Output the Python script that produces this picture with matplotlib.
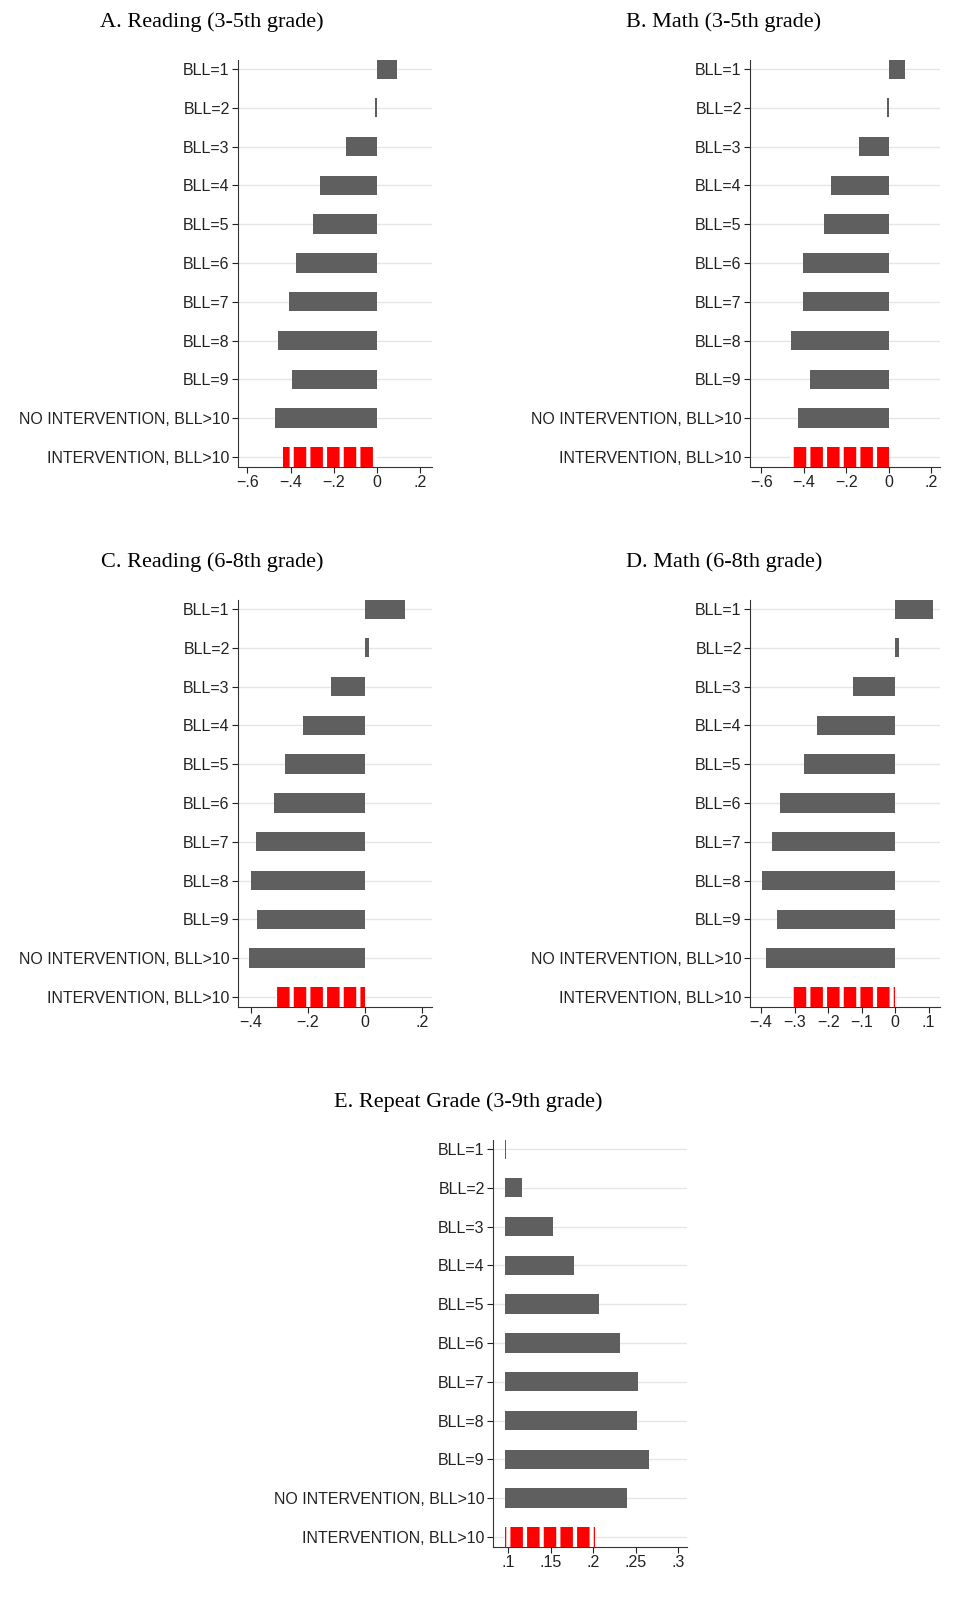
import matplotlib
matplotlib.use("Agg")
import matplotlib.pyplot as plt

plt.rcParams["hatch.linewidth"] = 3.0
plt.rcParams["font.family"] = ["Liberation Sans", "DejaVu Sans"]

labels = ["BLL=1", "BLL=2", "BLL=3", "BLL=4", "BLL=5", "BLL=6", "BLL=7", "BLL=8", "BLL=9",
          "NO INTERVENTION, BLL>10", "INTERVENTION, BLL>10"]

reading_35 = [0.093, -0.010, -0.143, -0.264, -0.296, -0.375, -0.407, -0.458, -0.394, -0.472, -0.435]
math_35 = [0.075, -0.010, -0.141, -0.272, -0.305, -0.404, -0.404, -0.460, -0.371, -0.427, -0.465]
reading_68 = [0.140, 0.014, -0.119, -0.217, -0.280, -0.318, -0.381, -0.399, -0.378, -0.406, -0.311]
math_68 = [0.113, 0.012, -0.125, -0.233, -0.272, -0.343, -0.367, -0.397, -0.352, -0.385, -0.307]
repeat_39 = [0.0975, 0.1165, 0.152, 0.177, 0.207, 0.231, 0.252, 0.251, 0.265, 0.240, 0.202]
repeat_base = 0.096

panels = [
    ("A. Reading (3-5th grade)", reading_35, 0.0, (-0.644, 0.255), [-0.6, -0.4, -0.2, 0, 0.2], ["−.6", "−.4", "−.2", "0", ".2"]),
    ("B. Math (3-5th grade)", math_35, 0.0, (-0.653, 0.24), [-0.6, -0.4, -0.2, 0, 0.2], ["−.6", "−.4", "−.2", "0", ".2"]),
    ("C. Reading (6-8th grade)", reading_68, 0.0, (-0.444, 0.234), [-0.4, -0.2, 0, 0.2], ["−.4", "−.2", "0", ".2"]),
    ("D. Math (6-8th grade)", math_68, 0.0, (-0.433, 0.134), [-0.4, -0.3, -0.2, -0.1, 0, 0.1], ["−.4", "−.3", "−.2", "−.1", "0", ".1"]),
    ("E. Repeat Grade (3-9th grade)", repeat_39, repeat_base, (0.082, 0.31), [0.1, 0.15, 0.2, 0.25, 0.3], [".1", ".15", ".2", ".25", ".3"]),
]

W, H = 958, 1598
# axes pixel boxes: left, right, top, bottom
boxes = [(238, 432, 60, 467), (750, 940, 60, 467), (238, 432, 600, 1007),
         (750, 940, 600, 1007), (493, 687, 1140, 1547)]
title_xy = [(212, 22), (724, 22), (212, 562), (724, 562), (468, 1102)]

fig = plt.figure(figsize=(W / 100, H / 100), dpi=100)
for (title, vals, base, xlim, ticks, ticklabels), (l, r, t, b), (tx, ty) in zip(panels, boxes, title_xy):
    ax = fig.add_axes([l / W, 1 - b / H, (r - l) / W, (b - t) / H])
    ypos = list(range(len(labels)))
    widths = [v - base for v in vals]
    ax.barh(ypos[:-1], widths[:-1], left=base, height=0.5, color="#5f5f5f", zorder=3)
    ax.barh(ypos[-1:], widths[-1:], left=base, height=0.5, color="#ff0000",
            edgecolor="white", hatch="|", linewidth=0, zorder=3)
    ax.set_yticks(ypos)
    ax.set_yticklabels(labels, fontsize=11.5)
    ax.set_ylim(10.26, -0.23)
    ax.set_xlim(*xlim)
    ax.set_xticks(ticks)
    ax.set_xticklabels(ticklabels, fontsize=11.5)
    ax.grid(axis="y", color="#e6e6e6", linewidth=1, zorder=0)
    for s in ("top", "right"):
        ax.spines[s].set_visible(False)
    for s in ("left", "bottom"):
        ax.spines[s].set_color("#333333")
    ax.tick_params(colors="#222222", length=4, pad=2)
    fig.text(tx / W, 1 - ty / H, title, ha="center", va="center", fontsize=16,
             family=["Liberation Serif", "DejaVu Serif"])

fig.savefig("out.png", dpi=100, facecolor="white")
